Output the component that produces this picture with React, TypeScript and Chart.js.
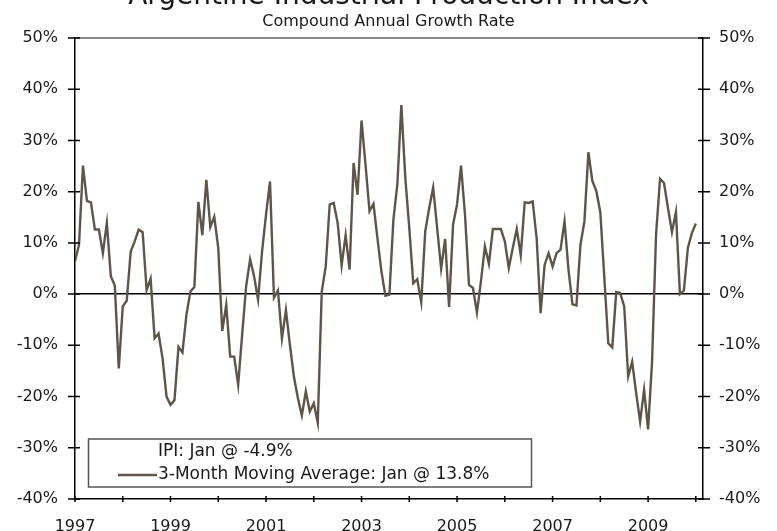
import { useEffect, useRef } from "react";
import { Chart, registerables } from "chart.js";

Chart.register(...registerables);

const TITLE = "Argentine Industrial Production Index";
const SUBTITLE = "Compound Annual Growth Rate";
const LEGEND_IPI = "IPI: Jan @ -4.9%";
const LEGEND_MA = "3-Month Moving Average: Jan @ 13.8%";

const START_YEAR = 1997;

// 3-month moving average, compound annual growth rate (%), monthly Jan 1997 - Jan 2010
const movingAverage: number[] = [
  // 1997
  6.4, 9.6, 25.1, 18.2, 17.9, 12.6, 12.6, 8.0, 13.9, 3.5, 1.7, -14.5,
  // 1998
  -2.4, -1.3, 8.3, 10.3, 12.6, 12.1, 0.8, 3.0, -8.6, -7.7, -12.5, -20.0,
  // 1999
  -21.6, -20.7, -10.3, -11.4, -4.0, 0.5, 1.4, 18.0, 11.5, 22.3, 13.1, 15.1,
  // 2000
  9.0, -7.2, -2.1, -12.2, -12.2, -17.7, -7.9, 1.5, 6.8, 3.5, -1.1, 8.3,
  // 2001
  15.5, 22.0, -0.7, 0.7, -8.7, -3.1, -9.9, -16.1, -20.3, -23.7, -19.0, -22.9,
  // 2002
  -21.3, -25.1, 0.5, 5.4, 17.5, 17.8, 13.9, 5.6, 11.5, 4.8, 25.6, 19.4,
  // 2003
  33.9, 25.3, 16.2, 17.6, 10.9, 4.4, -0.3, -0.1, 14.5, 21.4, 36.9, 22.7,
  // 2004
  12.9, 2.1, 2.9, -1.6, 12.2, 16.8, 20.8, 12.9, 5.0, 10.8, -2.5, 13.6,
  // 2005
  17.5, 25.1, 15.5, 1.8, 1.2, -3.6, 2.5, 9.3, 5.9, 12.7, 12.7, 12.7,
  // 2006
  10.3, 5.1, 9.0, 12.7, 7.6, 17.9, 17.8, 18.1, 10.9, -3.7, 5.7, 8.0,
  // 2007
  5.4, 8.0, 8.7, 14.2, 4.8, -2.0, -2.2, 9.6, 14.2, 27.7, 22.1, 20.1,
  // 2008
  16.0, 3.3, -9.6, -10.4, 0.4, 0.2, -2.4, -16.1, -13.2, -19.3, -24.9, -18.7,
  // 2009
  -26.4, -13.2, 11.6, 22.5, 21.7, 16.8, 12.1, 16.0, 0.0, 0.7, 9.0, 11.9,
  // 2010
  13.8,
];

const yearTicks = [1997, 1998, 1999, 2000, 2001, 2002, 2003, 2004, 2005, 2006, 2007, 2008, 2009, 2010];
const labeledYears = [1997, 1999, 2001, 2003, 2005, 2007, 2009];
const yTicks = [-40, -30, -20, -10, 0, 10, 20, 30, 40, 50];

const LINE_COLOR = "#5f5448";
const TEXT_COLOR = "#1a1a1a";
const FONT = "'DejaVu Sans', Verdana, sans-serif";

const decor = {
  id: "decor",
  afterDraw(chart: any) {
    const ctx = chart.ctx as CanvasRenderingContext2D;
    const { left, right, bottom } = chart.chartArea;
    const xs = chart.scales.x;
    const ys = chart.scales.y;
    ctx.save();
    // crossing tick marks
    ctx.strokeStyle = "#000";
    ctx.lineWidth = 1.5;
    ctx.beginPath();
    yTicks.forEach((v) => {
      const py = ys.getPixelForValue(v);
      ctx.moveTo(left - 7, py);
      ctx.lineTo(left + 5, py);
      ctx.moveTo(right - 5, py);
      ctx.lineTo(right + 7, py);
    });
    yearTicks.forEach((v) => {
      const px = xs.getPixelForValue(v);
      ctx.moveTo(px, bottom - 3);
      ctx.lineTo(px, bottom + 3);
    });
    ctx.stroke();

    // title & subtitle
    const cx = chart.width / 2;
    ctx.fillStyle = TEXT_COLOR;
    ctx.textAlign = "center";
    ctx.textBaseline = "alphabetic";
    ctx.font = `28px ${FONT}`;
    ctx.fillText(TITLE, cx, 4);
    ctx.font = `16px ${FONT}`;
    ctx.fillText(SUBTITLE, cx, 26);

    // legend box
    const bx = 88.5, by = 439, bw = 443, bh = 48;
    ctx.fillStyle = "#fff";
    ctx.fillRect(bx, by, bw, bh);
    ctx.strokeStyle = "#555";
    ctx.lineWidth = 1.5;
    ctx.strokeRect(bx, by, bw, bh);
    ctx.font = `17px ${FONT}`;
    ctx.fillStyle = TEXT_COLOR;
    ctx.textAlign = "left";
    ctx.textBaseline = "middle";
    ctx.fillText(LEGEND_IPI, 158, 452);
    ctx.fillText(LEGEND_MA, 158, 475);
    ctx.strokeStyle = LINE_COLOR;
    ctx.lineWidth = 2.5;
    ctx.beginPath();
    ctx.moveTo(118, 475);
    ctx.lineTo(157, 475);
    ctx.stroke();
    ctx.restore();
  },
};

export default function App() {
  const ref = useRef<HTMLCanvasElement>(null);
  useEffect(() => {
    const points = movingAverage.map((v, i) => ({ x: START_YEAR + i / 12, y: v }));
    const tickFont = { family: FONT, size: 16 };
    const chart = new Chart(ref.current!, {
      type: "line",
      data: {
        datasets: [
          {
            label: "3-Month Moving Average",
            data: points,
            borderColor: LINE_COLOR,
            borderWidth: 2.4,
            pointRadius: 0,
            tension: 0,
            fill: false,
          },
        ],
      },
      options: {
        animation: false,
        responsive: false,
        layout: { padding: { top: 38, left: 0, right: 0, bottom: 0 } },
        plugins: {
          legend: { display: false },
          title: { display: false },
          tooltip: { enabled: false },
        },
        scales: {
          x: {
            type: "linear",
            min: 1997,
            max: 2010.15,
            grid: { display: false },
            border: { display: true, color: "#000", width: 1.5 },
            afterBuildTicks: (axis: any) => {
              axis.ticks = yearTicks.map((v) => ({ value: v }));
            },
            afterFit: (axis: any) => {
              axis.height = 32;
            },
            ticks: {
              autoSkip: false,
              maxRotation: 0,
              padding: 10,
              color: TEXT_COLOR,
              font: tickFont,
              callback: (v: any) => (labeledYears.includes(Number(v)) ? String(v) : ""),
            },
          },
          y: {
            position: "left",
            min: -40,
            max: 50,
            afterBuildTicks: (axis: any) => {
              axis.ticks = yTicks.map((v) => ({ value: v }));
            },
            afterFit: (axis: any) => {
              axis.width = 75;
            },
            grid: {
              drawTicks: false,
              color: (c: any) => (c.tick.value === 0 ? "#000" : c.tick.value === 50 ? "#8a8a8a" : "rgba(0,0,0,0)"),
              lineWidth: (c: any) => (c.tick.value === 50 ? 2 : 1.5),
            },
            border: { display: true, color: "#000", width: 1.5 },
            ticks: {
              padding: 17,
              color: TEXT_COLOR,
              font: tickFont,
              callback: (v: any) => `${v}%`,
            },
          },
          y2: {
            position: "right",
            min: -40,
            max: 50,
            afterBuildTicks: (axis: any) => {
              axis.ticks = yTicks.map((v) => ({ value: v }));
            },
            afterFit: (axis: any) => {
              axis.width = 74;
            },
            grid: { display: false, drawTicks: false },
            border: { display: true, color: "#000", width: 1.5 },
            ticks: {
              padding: 16,
              color: TEXT_COLOR,
              font: tickFont,
              callback: (v: any) => `${v}%`,
            },
          },
        },
      },
      plugins: [decor],
    });
    return () => chart.destroy();
  }, []);

  return (
    <div style={{ position: "absolute", left: 0, top: 0, width: 777, height: 531, background: "#fff" }}>
      <canvas ref={ref} width={777} height={531} style={{ display: "block" }} />
    </div>
  );
}
